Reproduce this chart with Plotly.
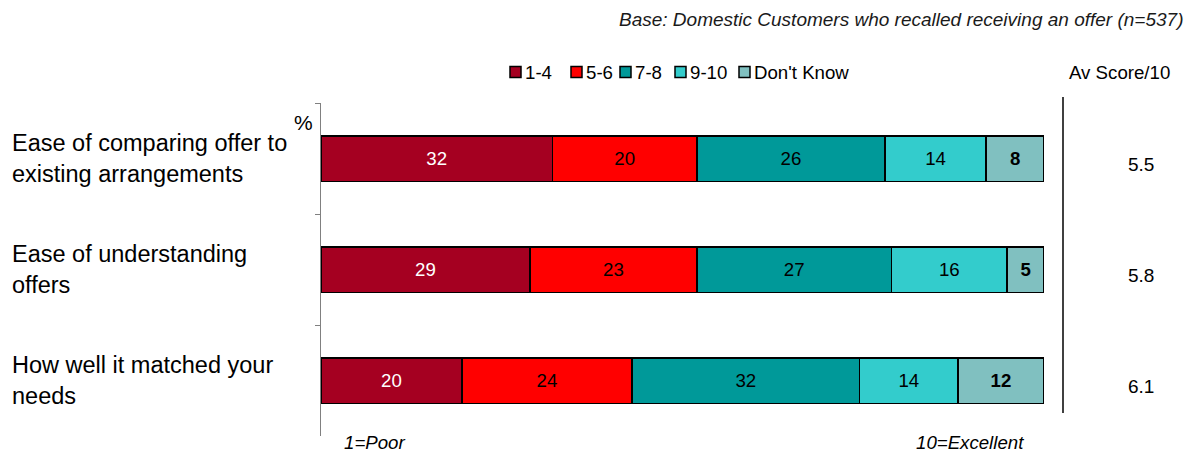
import plotly.graph_objects as go

categories = ["Ease of comparing offer to<br>existing arrangements",
              "Ease of understanding<br>offers",
              "How well it matched your<br>needs"]
series_names = ["1-4", "5-6", "7-8", "9-10", "Don't Know"]
values = {
    "1-4": [32.0, 28.9, 19.5],
    "5-6": [20.0, 23.1, 23.5],
    "7-8": [26.0, 26.9, 31.5],
    "9-10": [14.0, 16.0, 13.6],
    "Don't Know": [8.0, 5.1, 11.9],
}
av_scores = ["5.5", "5.8", "6.1"]

colors = {"1-4": "#A50021", "5-6": "#FF0000", "7-8": "#009999",
          "9-10": "#33CCCC", "Don't Know": "#80C0C0"}
text_colors = {"1-4": "white", "5-6": "black", "7-8": "black",
               "9-10": "black", "Don't Know": "black"}

FONT = "Liberation Sans, Arial, sans-serif"
FS = 18.67

# plot-area pixel geometry (for converting layout positions)
L, R, T, B = 321, 1044, 103, 436
def px(x):
    return (x - L) / (R - L)
def py(y):
    return (B - y) / (B - T)

fig = go.Figure()
for name in series_names:
    tmpl = "<b>%{x:.0f}</b>" if name == "Don't Know" else "%{x:.0f}"
    fig.add_trace(go.Bar(
        y=categories, x=values[name], name=name, orientation="h",
        marker=dict(color=colors[name], line=dict(color="black", width=1.5)),
        width=0.41,
        texttemplate=tmpl, textposition="inside", insidetextanchor="middle",
        textfont=dict(color=text_colors[name], size=FS, family=FONT),
        constraintext="none", showlegend=False,
    ))

annotations = []
for cat, sc in zip(categories, av_scores):
    annotations.append(dict(x=px(10), y=cat, xref="paper", yref="y", text=cat,
                            showarrow=False, xanchor="left", align="left",
                            font=dict(size=23.5, family=FONT, color="black")))
    annotations.append(dict(x=px(1141), y=cat, xref="paper", yref="y", text=sc,
                            showarrow=False, xanchor="center", yshift=-6,
                            font=dict(size=19, family=FONT, color="black")))

annotations += [
    dict(x=px(1119), y=py(72), xref="paper", yref="paper", text="Av Score/10",
         showarrow=False, xanchor="center", yanchor="middle",
         font=dict(size=FS, family=FONT, color="black")),
    dict(x=px(1185), y=py(20), xref="paper", yref="paper",
         text="<i>Base: Domestic Customers who recalled receiving an offer (n=537)</i>",
         showarrow=False, xanchor="right", yanchor="middle",
         font=dict(size=19, family=FONT, color="#1a1a1a")),
    dict(x=px(303), y=py(122), xref="paper", yref="paper", text="%",
         showarrow=False, xanchor="center", yanchor="middle",
         font=dict(size=21, family=FONT, color="black")),
    dict(x=px(342), y=py(442), xref="paper", yref="paper", text="<i>1=Poor</i>",
         showarrow=False, xanchor="left", yanchor="middle",
         font=dict(size=FS, family=FONT, color="black")),
    dict(x=px(1026), y=py(442), xref="paper", yref="paper", text="<i>10=Excellent</i>",
         showarrow=False, xanchor="right", yanchor="middle",
         font=dict(size=FS, family=FONT, color="black")),
]

shapes = [dict(type="line", xref="paper", yref="paper", x0=px(1063), x1=px(1063),
               y0=py(413), y1=py(97), line=dict(color="black", width=1.5))]

# hand-drawn legend (compact, like the original)
legend_x = [510, 571, 620, 675, 739]
for name, lx in zip(series_names, legend_x):
    shapes.append(dict(type="rect", xref="paper", yref="paper",
                       x0=px(lx), x1=px(lx + 11), y0=py(77.5), y1=py(66.5),
                       fillcolor=colors[name], line=dict(color="black", width=1.5)))
    annotations.append(dict(x=px(lx + 13), y=py(72), xref="paper", yref="paper",
                            text=name, showarrow=False, xanchor="left", yanchor="middle",
                            font=dict(size=FS, family=FONT, color="black")))

fig.update_layout(
    barmode="stack",
    width=1187, height=452,
    margin=dict(l=L, r=1187 - R, t=T, b=452 - B),
    plot_bgcolor="white", paper_bgcolor="white",
    font=dict(family=FONT, size=FS, color="black"),
    showlegend=False,
    annotations=annotations,
    shapes=shapes,
)
fig.update_xaxes(range=[0, 100], showgrid=False, zeroline=False, showticklabels=False,
                 showline=False, ticks="")
fig.update_yaxes(type="category", autorange="reversed", tickson="boundaries",
                 ticks="outside", ticklen=5, tickcolor="#808080",
                 showline=True, linecolor="#808080", linewidth=1,
                 showticklabels=False, showgrid=False, zeroline=False)

fig.write_html("out.html")
